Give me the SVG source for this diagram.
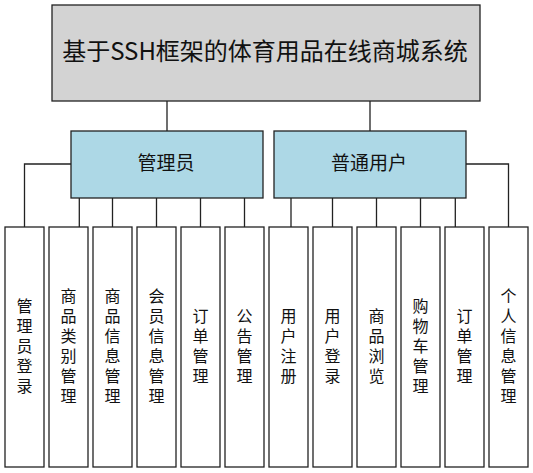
<svg xmlns="http://www.w3.org/2000/svg" width="533" height="473" viewBox="0 0 533 473">
<style>
.box{stroke:#222;stroke-width:1.3}
.title{fill:#d3d3d3}
.role{fill:#add8e6}
.leaf{fill:#fff}
.conn{fill:none;stroke:#222;stroke-width:1.3}
text{font-family:"Noto Sans CJK SC","Noto Sans",sans-serif;fill:#111}
.t1{font-size:24px}
.t2{font-size:19px}
.t3{font-size:16px;writing-mode:vertical-rl;letter-spacing:4px;text-anchor:middle}
</style>
<rect width="533" height="473" fill="#fff"/>
<g id="connectors">
<path class="conn" d="M167 101V131M370 101V131M71 164H24.5V227M466 164H508.5V227M79.3 198V227M112.5 198V227M156.5 198V227M200.5 198V227M244.5 198V227M291 198V227M332.5 198V227M376.5 198V227M420.5 198V227M455.3 198V227"/>
</g>
<g id="root"><rect class="box title" x="52" y="5" width="428" height="96"/><text class="t1" x="265" y="60" text-anchor="middle">基于SSH框架的体育用品在线商城系统</text></g>
<g id="admin"><rect class="box role" x="71" y="131" width="192" height="67"/><text class="t2" x="166" y="170" text-anchor="middle">管理员</text></g>
<g id="user"><rect class="box role" x="274" y="131" width="192" height="67"/><text class="t2" x="369" y="170" text-anchor="middle">普通用户</text></g>
<g id="leaf1"><rect class="box leaf" x="5" y="227" width="39" height="240"/><text class="t3" x="24.5" y="347.5">管理员登录</text></g>
<g id="leaf2"><rect class="box leaf" x="49" y="227" width="39" height="240"/><text class="t3" x="68.5" y="347.5">商品类别管理</text></g>
<g id="leaf3"><rect class="box leaf" x="93" y="227" width="39" height="240"/><text class="t3" x="112.5" y="347.5">商品信息管理</text></g>
<g id="leaf4"><rect class="box leaf" x="137" y="227" width="39" height="240"/><text class="t3" x="156.5" y="347.5">会员信息管理</text></g>
<g id="leaf5"><rect class="box leaf" x="181" y="227" width="39" height="240"/><text class="t3" x="200.5" y="347.5">订单管理</text></g>
<g id="leaf6"><rect class="box leaf" x="225" y="227" width="39" height="240"/><text class="t3" x="244.5" y="347.5">公告管理</text></g>
<g id="leaf7"><rect class="box leaf" x="269" y="227" width="39" height="240"/><text class="t3" x="288.5" y="347.5">用户注册</text></g>
<g id="leaf8"><rect class="box leaf" x="313" y="227" width="39" height="240"/><text class="t3" x="332.5" y="347.5">用户登录</text></g>
<g id="leaf9"><rect class="box leaf" x="357" y="227" width="39" height="240"/><text class="t3" x="376.5" y="347.5">商品浏览</text></g>
<g id="leaf10"><rect class="box leaf" x="401" y="227" width="39" height="240"/><text class="t3" x="420.5" y="347.5">购物车管理</text></g>
<g id="leaf11"><rect class="box leaf" x="445" y="227" width="39" height="240"/><text class="t3" x="464.5" y="347.5">订单管理</text></g>
<g id="leaf12"><rect class="box leaf" x="489" y="227" width="39" height="240"/><text class="t3" x="508.5" y="347.5">个人信息管理</text></g>
</svg>
